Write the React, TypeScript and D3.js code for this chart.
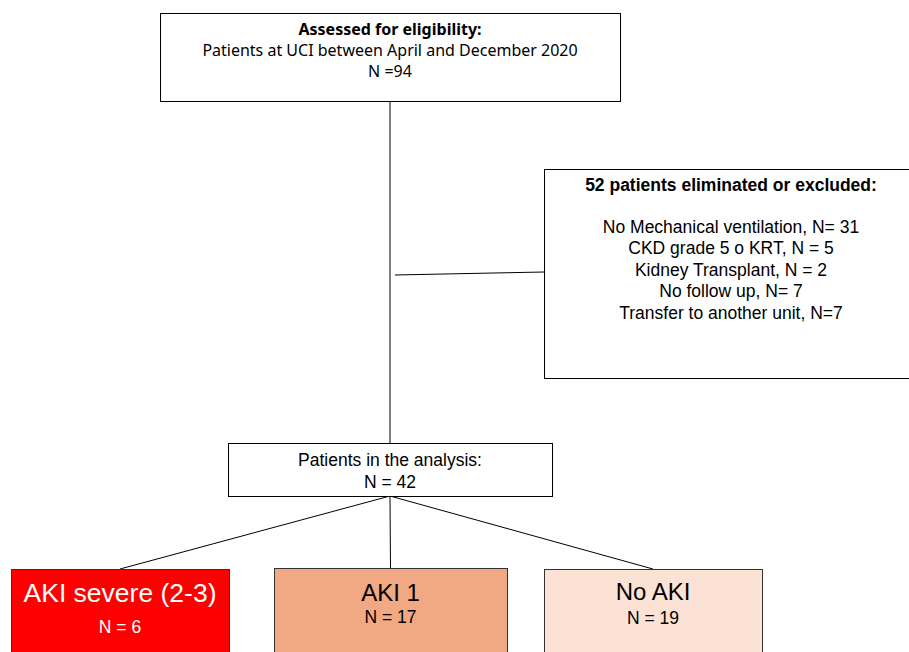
import * as d3 from "d3";
import * as React from "react";

// flow chart text
const topLines = [
  "Assessed for eligibility:",
  "Patients at UCI between April and December 2020",
  "N =94",
];
const excludedTitle = "52 patients eliminated or excluded:";
const excludedLines = [
  "No Mechanical ventilation, N= 31",
  "CKD grade 5 o KRT, N = 5",
  "Kidney Transplant, N = 2",
  "No follow up, N= 7",
  "Transfer to another unit, N=7",
];
const analysisLines = ["Patients in the analysis:", "N = 42"];
const groupNames = ["AKI severe (2-3)", "AKI 1", "No AKI"];
const groupCounts = [6, 17, 19];

// layout
const W = 909;
const H = 652;
const topBox = { x: 160, y: 13, w: 460, h: 88 };
const exBox = { x: 544, y: 169, w: 374, h: 209 };
const anBox = { x: 228, y: 443, w: 324, h: 53 };
const groupBoxes = [
  { x: 11, y: 569, w: 218, h: 100 },
  { x: 274, y: 568, w: 233, h: 100 },
  { x: 544, y: 569, w: 218, h: 100 },
];
const groupFill = ["#ff0000", "#f1a983", "#fbe2d5"];
const groupText = ["#ffffff", "#000000", "#000000"];
const nameSize = [26.5, 24, 24];
const nameBase = [602, 601, 600];
const countBase = [633, 623, 624];

const arial = "'Liberation Sans', Arial, sans-serif";
const aptos = "'Noto Sans', 'Open Sans', sans-serif";

const App: React.FC = () => {
  const line = d3.line<[number, number]>();
  const cx = topBox.x + topBox.w / 2;
  const anBottom: [number, number] = [anBox.x + anBox.w / 2, anBox.y + anBox.h];

  return (
    <svg
      width={W}
      height={H}
      style={{ position: "absolute", left: 0, top: 0, background: "#fff" }}
    >
      {/* connectors */}
      <path
        d={line([[cx, topBox.y + topBox.h], [cx, anBox.y]]) || ""}
        stroke="#000"
        strokeWidth={1}
        fill="none"
      />
      <path
        d={line([[395, 275], [exBox.x, 272]]) || ""}
        stroke="#000"
        strokeWidth={1}
        fill="none"
      />
      {groupBoxes.map((b, i) => (
        <path
          key={"c" + i}
          d={line([anBottom, [b.x + b.w / 2, b.y]]) || ""}
          stroke="#000"
          strokeWidth={1}
          fill="none"
        />
      ))}

      {/* top box */}
      <rect
        x={topBox.x + 0.5}
        y={topBox.y + 0.5}
        width={topBox.w}
        height={topBox.h}
        fill="#fff"
        stroke="#000"
      />
      {topLines.map((t, i) => (
        <text
          key={"t" + i}
          x={cx}
          y={35 + i * 21}
          textAnchor="middle"
          fontFamily={aptos}
          fontSize={16}
          fontWeight={i === 0 ? "bold" : "normal"}
          fill="#000"
        >
          {t}
        </text>
      ))}

      {/* excluded box */}
      <rect
        x={exBox.x + 0.5}
        y={exBox.y + 0.5}
        width={exBox.w}
        height={exBox.h}
        fill="#fff"
        stroke="#000"
      />
      <text
        x={exBox.x + exBox.w / 2}
        y={191}
        textAnchor="middle"
        fontFamily={arial}
        fontSize={17.5}
        fontWeight="bold"
      >
        {excludedTitle}
      </text>
      {excludedLines.map((t, i) => (
        <text
          key={"e" + i}
          x={exBox.x + exBox.w / 2}
          y={233 + i * 21.4}
          textAnchor="middle"
          fontFamily={arial}
          fontSize={17.5}
        >
          {t}
        </text>
      ))}

      {/* analysis box */}
      <rect
        x={anBox.x + 0.5}
        y={anBox.y + 0.5}
        width={anBox.w}
        height={anBox.h}
        fill="#fff"
        stroke="#000"
      />
      {analysisLines.map((t, i) => (
        <text
          key={"a" + i}
          x={anBox.x + anBox.w / 2}
          y={466 + i * 22}
          textAnchor="middle"
          fontFamily={arial}
          fontSize={17.5}
        >
          {t}
        </text>
      ))}

      {/* outcome groups */}
      {groupBoxes.map((b, i) => (
        <g key={"g" + i}>
          <rect
            x={b.x + 0.5}
            y={b.y + 0.5}
            width={b.w}
            height={b.h}
            fill={groupFill[i]}
            stroke="#333"
          />
          <text
            x={b.x + b.w / 2}
            y={nameBase[i]}
            textAnchor="middle"
            fontFamily={arial}
            fontSize={nameSize[i]}
            fill={groupText[i]}
          >
            {groupNames[i]}
          </text>
          <text
            x={b.x + b.w / 2}
            y={countBase[i]}
            textAnchor="middle"
            fontFamily={arial}
            fontSize={17.5}
            fill={groupText[i]}
          >
            {"N = " + groupCounts[i]}
          </text>
        </g>
      ))}
    </svg>
  );
};

export default App;
